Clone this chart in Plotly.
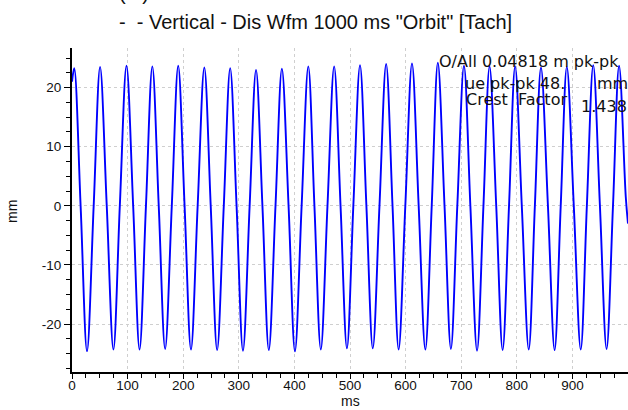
import plotly.graph_objects as go

# Waveform samples: time (ms) and displacement (mm) at peaks, troughs and crossings
time_ms = [
    0, 4, 15.5, 27, 39, 50.5, 62.5, 74.5, 86, 98, 110, 121.5, 133, 144.5, 156,
    167.5, 179.5, 191, 202.5, 214, 226, 238, 249.5, 261, 273, 284.5, 296, 307.5,
    319.5, 331, 342.5, 354, 366, 377.5, 389.5, 401, 413, 425, 436, 447.5, 459.5,
    471.5, 483, 494.5, 506, 518, 529.5, 541, 553, 565, 576.5, 587.5, 599.5, 611.5,
    623.5, 635.5, 647, 658, 670, 681.5, 693, 705, 716.5, 728.5, 740, 751, 763,
    774.5, 786, 797, 809, 821.5, 832.5, 843.5, 856, 868, 879, 890, 902.5, 915,
    926, 937.5, 949.5, 961.5, 973, 984, 996, 1000,
]
disp_mm = [
    21.0, 23.3, 0, -24.6, 0, 23.5, 0, -24.3, 0, 23.7, 0, -24.3, 0, 23.6, 0,
    -24.2, 0, 23.7, 0, -24.3, 0, 23.4, 0, -24.4, 0, 23.3, 0, -24.5,
    0, 23.0, 0, -24.4, 0, 23.2, 0, -24.6, 0, 23.6, 0, -24.3, 0,
    23.6, 0, -24.1, 0, 23.8, 0, -24.1, 0, 24.0, 0, -24.3, 0, 24.1,
    0, -24.3, 0, 24.2, 0, -24.2, 0, 23.7, 0, -24.5, 0, 23.6, 0,
    -24.4, 0, 23.6, 0, -24.3, 0, 23.4, 0, -24.4, 0, 23.5, 0, -24.3,
    0, 23.8, 0, -24.2, 0, 23.7, 1.5, -3.0,
]

x_ticks = [0, 100, 200, 300, 400, 500, 600, 700, 800, 900]
x_labels = ["0", "100", "200", "300", "400", "500", "600", "700", "800", "900"]
y_ticks = [-20, -10, 0, 10, 20]
y_labels = ["-20", "-10", "0", "10", "20"]

title_text = '-  - Vertical - Dis Wfm 1000 ms "Orbit" [Tach]'
stats_lines = [
    ("O/All 0.04818 m pk-pk", 437, 62),
    ("ue pk-pk 48.", 463, 83),
    ("mm", 595, 83),
    ("Crest\u00a0 Factor", 464, 99),
    ("1.438", 579, 106),
]

W, H = 628, 410
L, R, T, B = 72, 0, 48, 38
PW, PH = W - L - R, H - T - B


def px(x):
    return (x - L) / PW


def py(y):
    return (H - B - y) / PH


fig = go.Figure()
fig.add_trace(go.Scatter(
    x=time_ms, y=disp_mm, mode="lines",
    line=dict(color="#0000ff", width=1.9, shape="spline", smoothing=1.0),
    hoverinfo="skip", showlegend=False,
))

tick_font = dict(family="Liberation Sans, Arial, sans-serif", size=13.5, color="#111")
label_font = dict(family="Liberation Sans, Arial, sans-serif", size=14, color="#111")
title_font = dict(family="Liberation Sans Narrow, Arial Narrow, Liberation Sans", size=20, color="#111")
grid = dict(showgrid=True, gridcolor="#cfcfcf", gridwidth=1, griddash="3px,3px")

fig.update_xaxes(
    range=[0, 1000], tickvals=x_ticks, ticktext=x_labels, ticks="outside", ticklen=5,
    tickwidth=1, tickcolor="black", showline=True, linecolor="black", linewidth=2,
    zeroline=False, tickfont=tick_font, ticklabelstandoff=-5,
    minor=dict(dtick=25, ticks="outside", ticklen=4, tickcolor="black", showgrid=False),
    **grid,
)
fig.update_yaxes(
    range=[-28.1, 26.7], tickvals=y_ticks, ticktext=y_labels, ticks="outside", ticklen=6,
    tickwidth=1, tickcolor="black", showline=True, linecolor="black", linewidth=2,
    zeroline=False, tickfont=tick_font,
    minor=dict(dtick=2.5, ticks="outside", ticklen=4, tickcolor="black", showgrid=False),
    **grid,
)

annotations = [
    dict(text="(\u00a0\u00a0\u00a0)", x=px(134), y=py(6), xanchor="center", yanchor="bottom",
         font=title_font),
    dict(text=title_text, x=px(315), y=py(22), xanchor="center", yanchor="middle",
         font=title_font),
    dict(text="mm", x=px(12), y=py(212), xanchor="center", yanchor="middle", textangle=-90,
         font=label_font),
    dict(text="ms", x=px(350), y=py(401), xanchor="center", yanchor="middle",
         font=label_font),
]
for txt, xl, yc in stats_lines:
    annotations.append(dict(
        text=txt, x=px(xl), y=py(yc), xanchor="left", yanchor="middle",
        font=dict(family="DejaVu Sans, Verdana, sans-serif", size=16, color="#111"),
    ))
for a in annotations:
    a.update(xref="paper", yref="paper", showarrow=False)

fig.update_layout(
    width=W, height=H, margin=dict(l=L, r=R, t=T, b=B),
    paper_bgcolor="white", plot_bgcolor="white",
    annotations=annotations, showlegend=False,
)

fig.write_html("out.html", config={"displayModeBar": False})
